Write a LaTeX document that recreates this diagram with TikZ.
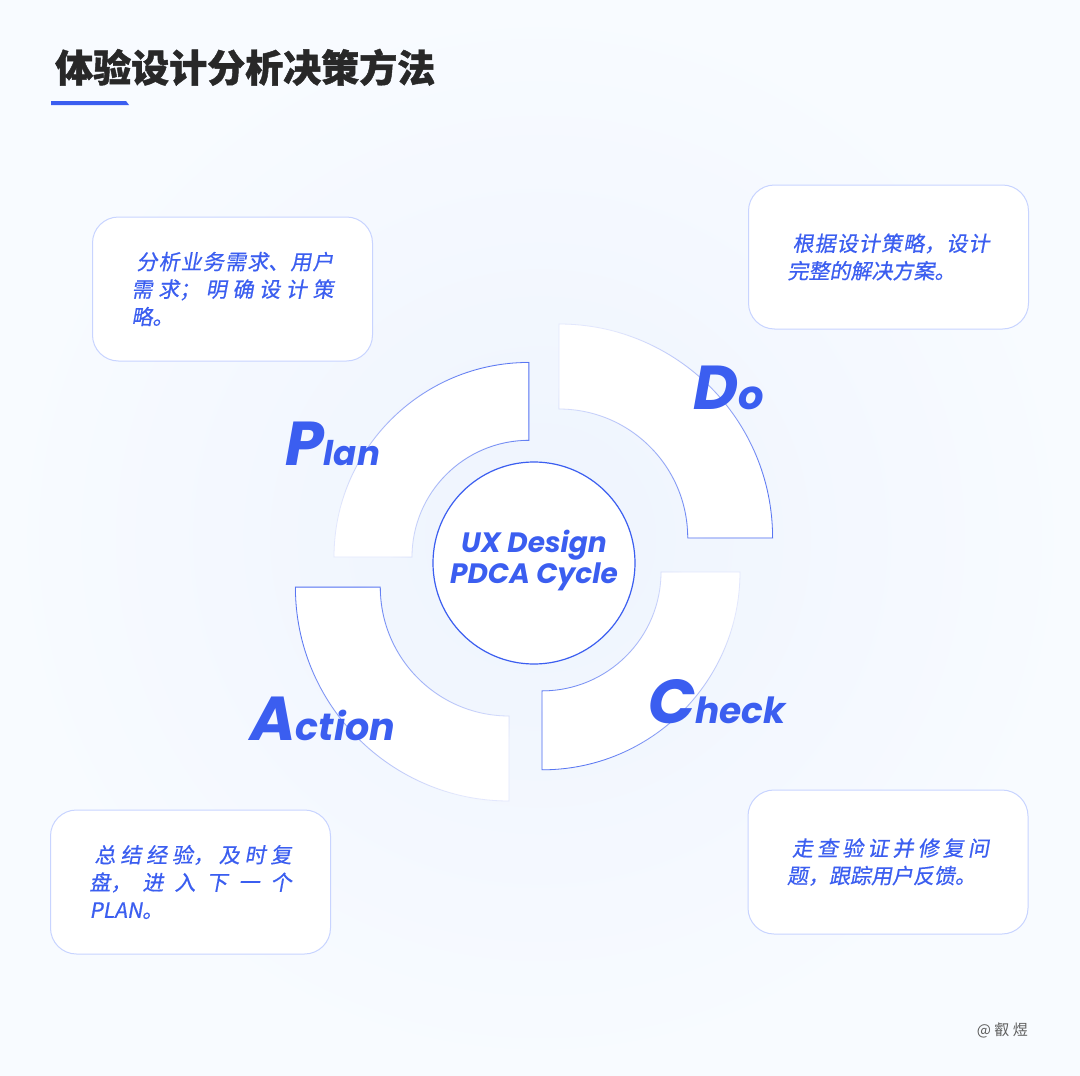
\documentclass[tikz,border=0pt]{standalone}
\usepackage{fontspec}
\usetikzlibrary{fadings}
\newfontfamily\cjk{Noto Sans CJK SC}[FakeSlant=0.18, FakeBold=0.6]
\newfontfamily\cjkhead{Noto Sans CJK SC}[BoldFeatures={FakeBold=1.2}]
\newfontfamily\pdca{Poppins}
\XeTeXlinebreaklocale "zh"
\XeTeXlinebreakskip=0pt plus 40pt
\XeTeXlinebreakpenalty=10000

\definecolor{pdcablue}{RGB}{59,94,240}
\definecolor{notebd}{RGB}{200,212,255}
\definecolor{headgray}{RGB}{40,40,40}
\definecolor{signgray}{RGB}{95,95,95}
\definecolor{bgin}{RGB}{238,244,254}
\definecolor{bgout}{RGB}{248,251,255}

\newcommand\stagename[3]{{\fontsize{62}{62}\selectfont #1}{\fontsize{#3}{#3}\selectfont #2}}

\tikzset{
  note/.style     = {draw=notebd, fill=white, line width=1pt, rounded corners=26pt,
                     minimum width=280pt, minimum height=144pt, text width=202pt,
                     align=justify, text=pdcablue,
                     font=\cjk\fontsize{21}{27.5}\selectfont},
  stage/.style    = {text=pdcablue, inner sep=0pt, anchor=base west,
                     font=\pdca\bfseries\itshape},
  ringpart/.style = {fill=white, draw=pdcablue!15, line width=0.8pt},
  ringedge/.style = {draw=pdcablue!85, line width=0.8pt, path fading=west},
  core/.style     = {circle, draw=pdcablue, line width=1.2pt, fill=white,
                     minimum size=202pt, inner sep=0pt}
}

\begin{document}
\begin{tikzpicture}[x=1pt, y=-1pt]

  % background
  \useasboundingbox (0,0) rectangle (1080,1076);
  \shade[inner color=bgin, outer color=bgout] (0,0) rectangle (1080,1076);

  % title and its bar
  \node[anchor=base west, inner sep=0pt, text=headgray,
        font=\cjkhead\bfseries\fontsize{38}{38}\selectfont] (head) at (55,82)
    {体验设计分析决策方法};
  \fill[pdcablue] (51,101) -- (126,101) -- (129,105) -- (51,105) -- cycle;

  % the four quarter rings: centre x/y, outer, inner, start angle, fading angle
  \foreach \cx/\cy/\ro/\ri/\ang/\fa in {529/557/195/117/180/45,
                                        559/538/214/129/270/-45,
                                        542/572/198/119/0/225,
                                        509/587/214/129/90/135}
  {
    \begin{scope}[shift={(\cx,\cy)}]
      \path[ringpart] (\ang:\ro) arc[start angle=\ang, end angle=\ang+90, radius=\ro]
        -- (\ang+90:\ri) arc[start angle=\ang+90, end angle=\ang, radius=\ri] -- cycle;
      \path[ringedge, fading angle=\fa] (\ang:\ro) arc[start angle=\ang, end angle=\ang+90, radius=\ro]
        -- (\ang+90:\ri) arc[start angle=\ang+90, end angle=\ang, radius=\ri] -- cycle;
    \end{scope}
  }

  % centre of the cycle
  \node[core] (core) at (534,563) {};
  \node[text=pdcablue, align=center, inner sep=0pt,
        font=\pdca\bfseries\itshape\fontsize{28}{31}\selectfont] (coretext)
    at ([yshift=3pt]core.center) {UX Design\\PDCA Cycle};

  % stage names
  \node[stage] (plan)   at (285,465) {\stagename{P}{lan}{34}};
  \node[stage] (do)     at (693,409) {\stagename{D}{o}{40}};
  \node[stage] (check)  at (648,723) {\stagename{C}{heck}{36}};
  \node[stage] (action) at (250,740) {\stagename{A}{ction}{38}};

  % notes
  \node[note] (plannote) at (232.5,289)
    {\hspace*{5pt}分析业务需求、用户\linebreak 需求；明确设计策\linebreak 略。};
  \node[note] (donote) at (888.5,257)
    {\hspace*{5pt}根据设计策略，设计\linebreak 完整的解决方案。};
  \node[note] (checknote) at (888,862)
    {\hspace*{5pt}走查验证并修复问\linebreak 题，跟踪用户反馈。};
  \node[note] (actnote) at (190.5,882)
    {\hspace*{5pt}总结经验，及时复\linebreak 盘，进入下一个\linebreak PLAN。};

  % signature
  \node[anchor=east, inner sep=0pt, text=signgray,
        font=\cjkhead\fontsize{15}{15}\selectfont] (sign) at (1028,1030) {@ 叡 煜};

\end{tikzpicture}
\end{document}
